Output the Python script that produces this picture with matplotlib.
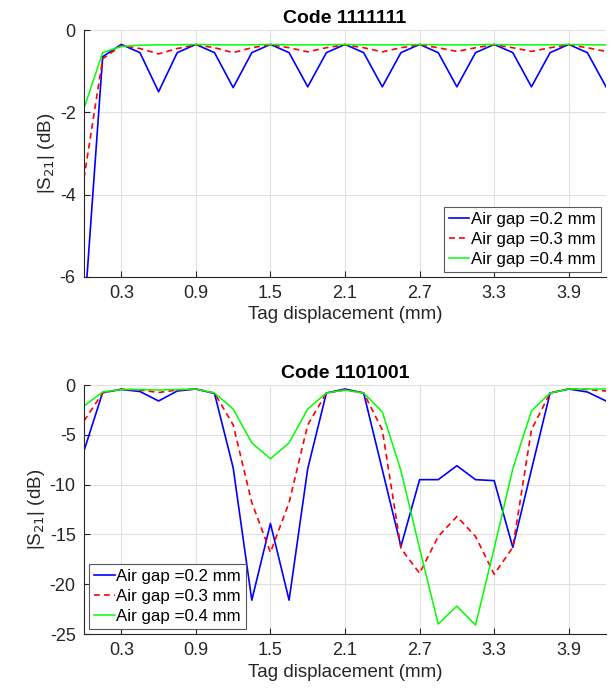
import matplotlib
matplotlib.use("Agg")
import matplotlib.pyplot as plt

plt.rcParams['font.family'] = ['Liberation Sans', 'DejaVu Sans']

x = [0.0, 0.15, 0.3, 0.45, 0.6, 0.75, 0.9, 1.05, 1.2, 1.35, 1.5, 1.65, 1.8, 1.95,
     2.1, 2.25, 2.4, 2.55, 2.7, 2.85, 3.0, 3.15, 3.3, 3.45, 3.6, 3.75, 3.9, 4.05, 4.2]

# Code 1111111
top_02 = [-7.0, -0.65, -0.35, -0.55, -1.5, -0.55, -0.35, -0.55, -1.4, -0.55, -0.35, -0.55, -1.38, -0.55,
          -0.35, -0.55, -1.38, -0.55, -0.35, -0.55, -1.38, -0.55, -0.35, -0.55, -1.38, -0.55, -0.35, -0.55, -1.38]
top_03 = [-3.6, -0.7, -0.38, -0.45, -0.58, -0.45, -0.36, -0.43, -0.55, -0.43, -0.36, -0.43, -0.53, -0.43,
          -0.36, -0.43, -0.53, -0.43, -0.36, -0.43, -0.52, -0.43, -0.36, -0.43, -0.52, -0.43, -0.36, -0.43, -0.52]
top_04 = [-1.9, -0.55, -0.4, -0.37, -0.36, -0.36, -0.35, -0.36, -0.36, -0.36, -0.35, -0.36, -0.36, -0.36,
          -0.35, -0.36, -0.36, -0.36, -0.35, -0.36, -0.36, -0.36, -0.35, -0.36, -0.36, -0.36, -0.35, -0.36, -0.36]

# Code 1101001
bot_02 = [-6.6, -0.75, -0.45, -0.65, -1.6, -0.6, -0.4, -0.85, -8.3, -21.6, -13.9, -21.6, -8.4, -0.8,
          -0.4, -0.8, -8.5, -16.2, -9.5, -9.5, -8.1, -9.5, -9.6, -16.3, -8.5, -0.8, -0.4, -0.7, -1.6]
bot_03 = [-3.6, -0.8, -0.4, -0.5, -0.75, -0.5, -0.4, -0.8, -4.0, -11.8, -16.8, -11.8, -4.0, -0.8,
          -0.5, -0.8, -4.5, -16.4, -18.9, -15.2, -13.2, -15.2, -19.0, -16.3, -4.5, -0.8, -0.4, -0.45, -0.6]
bot_04 = [-2.1, -0.7, -0.45, -0.45, -0.5, -0.45, -0.4, -0.8, -2.4, -5.8, -7.4, -5.8, -2.4, -0.8,
          -0.5, -0.8, -2.7, -8.6, -16.4, -24.0, -22.2, -24.1, -16.4, -8.4, -2.6, -0.8, -0.4, -0.4, -0.4]

labels = ['Air gap =0.2 mm', 'Air gap =0.3 mm', 'Air gap =0.4 mm']
xticks = [0.3, 0.9, 1.5, 2.1, 2.7, 3.3, 3.9]

fig = plt.figure(figsize=(6.15, 6.93), dpi=100)
ax1 = fig.add_axes([0.1366, 0.6003, 0.8488, 0.3564])
ax2 = fig.add_axes([0.1366, 0.0851, 0.8488, 0.3593])

axcol = (0.15, 0.15, 0.15)

def style(ax, series, title, ylim, yticks, loc):
    ax.plot(x, series[0], color=(0, 0, 1), lw=1.2, ls='-', label=labels[0])
    ax.plot(x, series[1], color=(1, 0, 0), lw=1.2, ls=(0, (3.5, 2.5)), label=labels[1])
    ax.plot(x, series[2], color=(0, 1, 0), lw=1.1, ls='-', label=labels[2])
    ax.set_xlim(0, 4.2)
    ax.set_ylim(*ylim)
    ax.set_xticks(xticks)
    ax.set_xticklabels([f'{v:.1f}' for v in xticks])
    ax.set_yticks(yticks)
    ax.set_yticklabels([f'{v:g}' for v in yticks])
    ax.grid(True, color=(0.88, 0.88, 0.88), lw=0.8)
    ax.set_axisbelow(True)
    for s in ['top', 'right']:
        ax.spines[s].set_visible(False)
    for s in ['left', 'bottom']:
        ax.spines[s].set_color(axcol)
        ax.spines[s].set_linewidth(0.8)
    ax.tick_params(direction='in', length=4, width=0.8, colors=axcol, labelsize=13, labelcolor=axcol, pad=6)
    ax.set_title(title, fontsize=14, fontweight='bold', pad=5)
    ax.set_xlabel('Tag displacement (mm)', fontsize=13.5, color=axcol, labelpad=3)
    ax.set_ylabel('|S$_{21}$| (dB)', fontsize=13.5, color=axcol, labelpad=2)
    leg = ax.legend(loc=loc, fontsize=12.2, handlelength=1.2, handletextpad=0.1,
                    labelspacing=0.3, borderpad=0.3, borderaxespad=0.3, fancybox=False,
                    framealpha=1, edgecolor=(0.35, 0.35, 0.35))
    leg.get_frame().set_linewidth(0.8)

style(ax1, [top_02, top_03, top_04], 'Code 1111111', (-6, 0), [-6, -4, -2, 0], 'lower right')
style(ax2, [bot_02, bot_03, bot_04], 'Code 1101001', (-25, 0), [-25, -20, -15, -10, -5, 0], 'lower left')

fig.savefig('out.png', dpi=100)
